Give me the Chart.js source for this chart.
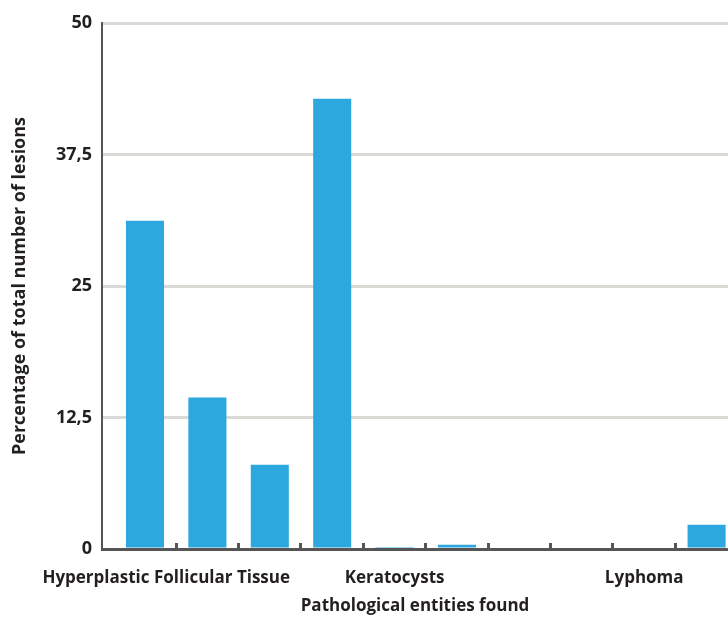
<!DOCTYPE html>
<html>
<head>
<meta charset="utf-8">
<script src="https://cdn.jsdelivr.net/npm/chart.js@4/dist/chart.umd.min.js"></script>
<style>
    body { margin: 0; background: #fff; overflow: hidden; }
</style>
</head>
<body>
<canvas id="graficoLesiones" width="728" height="619"></canvas>
<script>
// only every 4th category name is printed on the axis
const categorias = ["Hyperplastic Follicular Tissue", "", "", "", "Keratocysts", "", "", "", "Lyphoma", ""];
const porcentajes = [31.2, 14.4, 8.0, 42.8, 0.2, 0.4, 0, 0, 0, 2.3];
const ticksY = [0, 12.5, 25, 37.5, 50];
const etiquetasX = [1, 5, 9];
// first label is pushed right so it does not run off the left edge
const posEtiquetasX = [1.34, 5, 9];

const colorBarra = "#2da8df";
const colorEje = "#555555";

Chart.defaults.font.family = "'Open Sans'";
Chart.defaults.font.size = 17;
Chart.defaults.font.weight = "bold";
Chart.defaults.color = "#231f20";

const dataGraficoLesiones = {
    datasets: [
        {
            label: "Lesiones",
            backgroundColor: colorBarra,
            borderWidth: 0,
            barPercentage: 0.61,
            categoryPercentage: 1,
            data: porcentajes.map((valor, i) => {
                return { x: i + 1, y: valor };
            }),
        },
    ],
};

const configGraficoLesiones = {
    type: "bar",
    data: dataGraficoLesiones,
    options: {
        responsive: false,
        animation: false,
        layout: {
            padding: { top: 23, right: 0, bottom: 0, left: 0 },
        },
        plugins: {
            legend: { display: false },
            tooltip: { enabled: false },
        },
        scales: {
            x: {
                type: "linear",
                min: 0.311,
                max: 10.343,
                offset: false,
                border: { color: colorEje, width: 3 },
                grid: {
                    offset: false,
                    drawOnChartArea: false,
                    drawTicks: true,
                    tickLength: -6,
                    lineWidth: 3,
                    tickColor: (ctx) =>
                        ctx.tick && posEtiquetasX.includes(ctx.tick.value) ? "rgba(0,0,0,0)" : colorEje,
                },
                afterBuildTicks: (scale) => {
                    const marcas = [];
                    for (let i = 1; i < categorias.length; i++) marcas.push({ value: i + 0.5 });
                    posEtiquetasX.forEach((v) => marcas.push({ value: v }));
                    scale.ticks = marcas;
                },
                afterFit: (scale) => {
                    scale.height = 70;
                },
                ticks: {
                    autoSkip: false,
                    maxRotation: 0,
                    minRotation: 0,
                    padding: 25,
                    callback: (valor) => {
                        const k = posEtiquetasX.indexOf(valor);
                        return k >= 0 ? categorias[etiquetasX[k] - 1] : "";
                    },
                },
                title: {
                    display: true,
                    text: "Pathological entities found",
                    padding: { top: 4, bottom: 3 },
                },
            },
            y: {
                min: 0,
                max: 50,
                border: { color: colorEje, width: 2 },
                grid: {
                    color: "#d9d9d6",
                    lineWidth: 3,
                    drawTicks: false,
                },
                afterBuildTicks: (scale) => {
                    scale.ticks = ticksY.map((v) => ({ value: v }));
                },
                afterFit: (scale) => {
                    scale.width = 102;
                },
                ticks: {
                    padding: 10,
                    font: { size: 18 },
                    callback: (valor) => String(valor).replace(".", ","),
                },
                title: {
                    display: true,
                    text: "Percentage of total number of lesions",
                    font: { size: 18 },
                    padding: { top: 9, bottom: 4 },
                },
            },
        },
    },
};

const chartLesiones = new Chart(
    document.getElementById("graficoLesiones"),
    configGraficoLesiones
);
</script>
</body>
</html>
